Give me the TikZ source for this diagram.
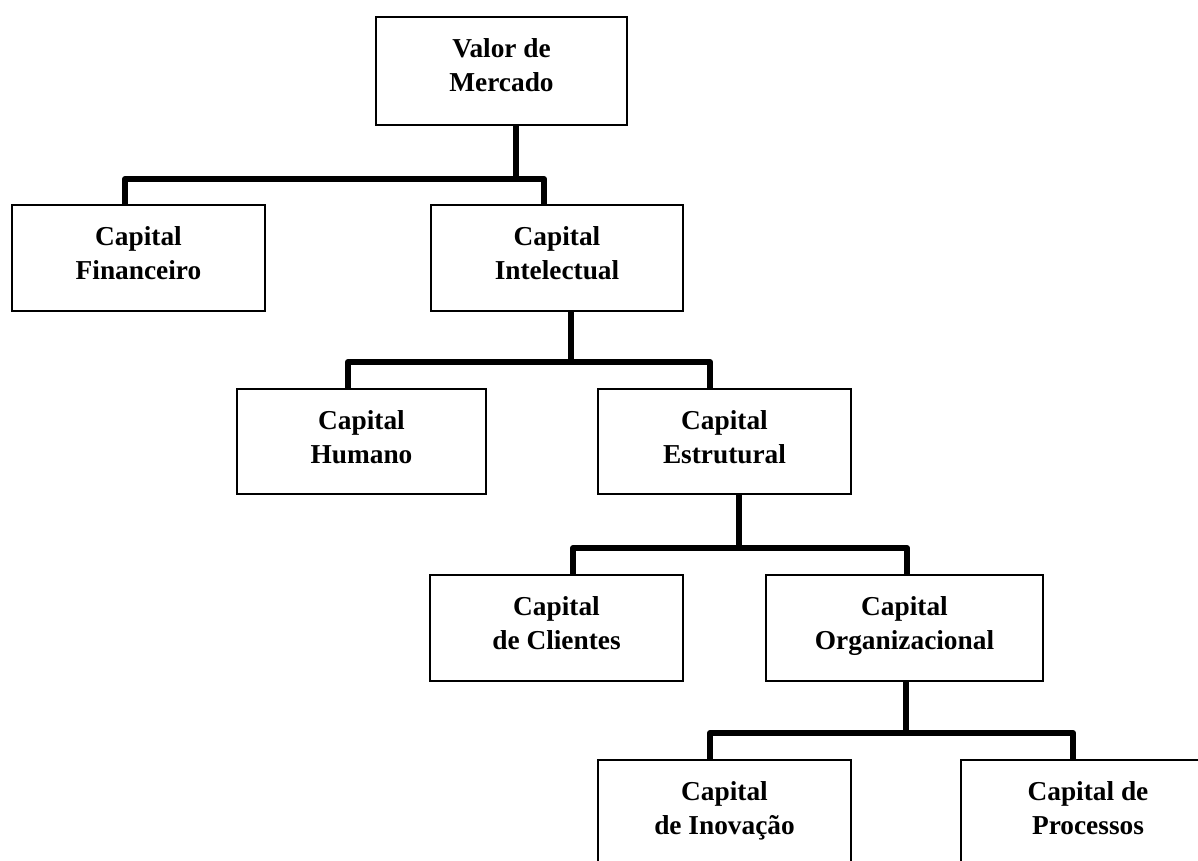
\documentclass[tikz,border=0pt]{standalone}
\usepackage{fontspec}
\setmainfont{Liberation Serif}
\usetikzlibrary{calc,fit}
\begin{document}
\begin{tikzpicture}[x=0.75pt,y=-0.75pt,
  box/.style={draw, line width=2pt, rectangle, inner sep=0pt, outer sep=0pt},
  lbl/.style={align=center, anchor=north, font=\fontsize{20.5}{25.5}\selectfont\bfseries, inner sep=0pt},
  conn/.style={line width=4.5pt, line join=round}]
\useasboundingbox (0,0) rectangle (1198,860);
\clip (0,0) rectangle (1198,860);
\fill[white] (0,0) rectangle (1198,860);
% boxes
\node[box, fit={(376,17) (627,125)}] (v) {};
\node[box, fit={(12,205) (265,311)}] (fin) {};
\node[box, fit={(431,205) (683,311)}] (int) {};
\node[box, fit={(237,389) (486,494)}] (hum) {};
\node[box, fit={(598,389) (851,494)}] (est) {};
\node[box, fit={(430,575) (683,681)}] (cli) {};
\node[box, fit={(766,575) (1043,681)}] (org) {};
\node[box, fit={(598,760) (851,930)}] (ino) {};
\node[box, fit={(961,760) (1215,930)}] (pro) {};
% labels
\node[lbl] (vt) at ($(v.north)+(0,21)$) {Valor de\\Mercado};
\node[lbl] (fint) at ($(fin.north)+(0,21)$) {Capital\\Financeiro};
\node[lbl] (intt) at ($(int.north)+(0,21)$) {Capital\\Intelectual};
\node[lbl] (humt) at ($(hum.north)+(0,21)$) {Capital\\Humano};
\node[lbl] (estt) at ($(est.north)+(0,21)$) {Capital\\Estrutural};
\node[lbl] (clit) at ($(cli.north)+(0,21)$) {Capital\\de Clientes};
\node[lbl] (orgt) at ($(org.north)+(0,21)$) {Capital\\Organizacional};
\node[lbl] (inot) at ($(ino.north)+(0,21)$) {Capital\\de Inovação};
\node[lbl] (prot) at (1088,781) {Capital de\\Processos};
% connector junctions
\coordinate (b1) at (516,179);
\coordinate (b1l) at (125,179);
\coordinate (b1r) at (544,179);
\coordinate (b2) at (571,362);
\coordinate (b2l) at (348,362);
\coordinate (b2r) at (710,362);
\coordinate (b3) at (739,548);
\coordinate (b3l) at (573,548);
\coordinate (b3r) at (907,548);
\coordinate (b4) at (906,733);
\coordinate (b4l) at (710,733);
\coordinate (b4r) at (1073,733);
% connectors
\draw[conn] (v.south -| b1) -- (b1);
\draw[conn] (fin.north -| b1l) -- (b1l) -- (b1r) -- (int.north -| b1r);
\draw[conn] (int.south -| b2) -- (b2);
\draw[conn] (hum.north -| b2l) -- (b2l) -- (b2r) -- (est.north -| b2r);
\draw[conn] (est.south -| b3) -- (b3);
\draw[conn] (cli.north -| b3l) -- (b3l) -- (b3r) -- (org.north -| b3r);
\draw[conn] (org.south -| b4) -- (b4);
\draw[conn] (ino.north -| b4l) -- (b4l) -- (b4r) -- (pro.north -| b4r);
\end{tikzpicture}
\end{document}
